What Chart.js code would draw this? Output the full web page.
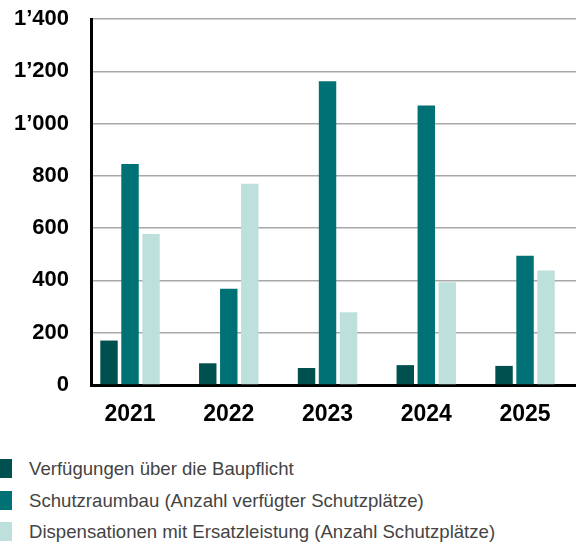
<!DOCTYPE html>
<html>
<head>
<meta charset="utf-8">
<script src="https://cdn.jsdelivr.net/npm/chart.js@4"></script>
<style>
  body { margin: 0; background: #fff; font-family: "Liberation Sans", Arial, sans-serif; }
  #wrap { position: relative; width: 576px; height: 542px; overflow: hidden; }
  #chart { position: absolute; left: 0; top: 0; }
  .leg { position: absolute; left: 0; height: 20px; color: #444; font-size: 18.6px; line-height: 20px; white-space: nowrap; }
  .leg span { position: absolute; left: 0; top: 0; width: 12px; height: 19px; }
  .leg b { position: absolute; left: 29px; top: 0; font-weight: normal; }
</style>
</head>
<body>
<div id="wrap">
  <canvas id="chart" width="576" height="440"></canvas>
  <div id="legend"></div>
</div>
<script>
var years = ['2021', '2022', '2023', '2024', '2025'];
var verfuegungen = [170, 83, 65, 76, 73];
var schutzraumbau = [845, 368, 1162, 1069, 494];
var dispensationen = [578, 770, 278, 393, 438];
var seriesNames = [
    'Verfügungen über die Baupflicht',
    'Schutzraumbau (Anzahl verfügter Schutzplätze)',
    'Dispensationen mit Ersatzleistung (Anzahl Schutzplätze)'
];
var colors = ['#00504f', '#007174', '#bde0dc'];
var yTicks = [0, 200, 400, 600, 800, 1000, 1200, 1400];

function toPoints(arr) {
    return arr.map(function (v, i) { return { x: i, y: v }; });
}

function fmt(v) {
    return String(v).replace(/\B(?=(\d{3})+(?!\d))/g, '\u2019');
}

var ctx = document.getElementById('chart').getContext('2d');
var chart = new Chart(ctx, {
    type: 'bar',
    data: {
        datasets: [
            { label: seriesNames[0], data: toPoints(verfuegungen), backgroundColor: colors[0] },
            { label: seriesNames[1], data: toPoints(schutzraumbau), backgroundColor: colors[1] },
            { label: seriesNames[2], data: toPoints(dispensationen), backgroundColor: colors[2] }
        ]
    },
    options: {
        responsive: false,
        animation: false,
        categoryPercentage: 0.638,
        barPercentage: 0.83,
        layout: { padding: 0 },
        plugins: {
            legend: { display: false },
            tooltip: { enabled: false }
        },
        scales: {
            x: {
                type: 'linear',
                offset: false,
                min: -0.395,
                max: 4.516,
                afterBuildTicks: function (s) {
                    s.ticks = years.map(function (y, i) { return { value: i }; });
                },
                afterFit: function (s) { s.height = 55; s.paddingLeft = 0; s.paddingRight = 0; },
                grid: { display: false, drawTicks: false, offset: false },
                border: { display: true, color: '#000', width: 3 },
                ticks: {
                    padding: 16,
                    color: '#000',
                    font: { family: 'Liberation Sans', size: 23, weight: 'bold' },
                    callback: function (v) { return years[v]; }
                }
            },
            y: {
                min: 0,
                max: 1400,
                afterBuildTicks: function (s) {
                    s.ticks = yTicks.map(function (v) { return { value: v }; });
                },
                afterFit: function (s) { s.width = 91; s.paddingTop = 19; s.paddingBottom = 0; },
                grid: { color: '#a8a8a8', lineWidth: 1.5, drawTicks: false },
                border: { display: true, color: '#000', width: 3 },
                ticks: {
                    padding: 22,
                    color: '#000',
                    font: { family: 'Liberation Sans', size: 22, weight: 'bold' },
                    callback: function (v) { return fmt(v); }
                }
            }
        }
    }
});

var legend = document.getElementById('legend');
var rowTops = [459, 491, 522];
seriesNames.forEach(function (name, i) {
    var d = document.createElement('div');
    d.className = 'leg';
    d.style.top = rowTops[i] + 'px';
    d.innerHTML = '<span style="background:' + colors[i] + '"></span><b>' + name + '</b>';
    legend.appendChild(d);
});
</script>
</body>
</html>
